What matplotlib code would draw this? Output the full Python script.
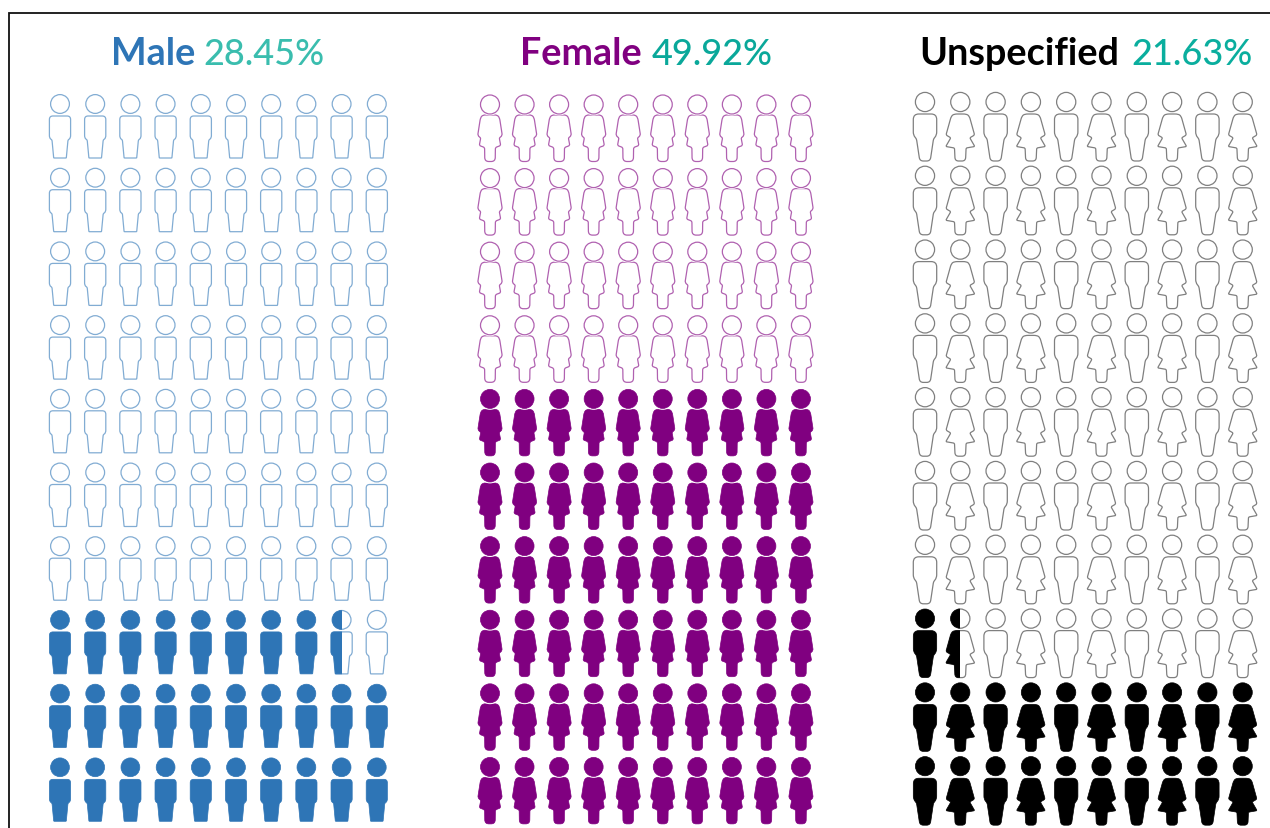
import matplotlib
matplotlib.use("Agg")
import matplotlib.pyplot as plt
from matplotlib.path import Path
from matplotlib.patches import PathPatch, Circle, Rectangle

# ---- data ----
groups = ["Male", "Female", "Unspecified"]
label_pct = ["28.45%", "49.92%", "21.63%"]
filled_pct = [28.5, 60, 21.5]          # filled icons

# ---- styles / layout ----
W, H = 1270, 829
name_colors = ["#2E75B6", "#800080", "#000000"]
pct_colors = ["#3ABDAE", "#0AA89A", "#0AAE9E"]
icon_colors = ["#2E75B6", "#800080", "#000000"]
outline_alpha = [0.6, 0.62, 0.5]
x_first = [60, 490, 925]
x_step = [35.2, 34.55, 35.3]
y_first = [105, 105.5, 103]
y_step = [73.7, 73.6, 73.8]
title_x = [(111, 203), (520, 652), (919, 1131)]
N_ROWS, N_COLS = 10, 10
HEAD_R = [9.4, 9.5, 9.6]

# half outlines: (x, y, corner radius), relative to the head centre
MALE_A = [(10.6, 12, 3.5), (10.6, 34, 2.5), (8, 36, 1), (6.3, 54, 0.6)]
FEMALE_A = [(7, 10.5, 2), (9.5, 13, 3), (12.3, 31, 2), (9.3, 33.5, 1),
            (10.7, 41, 1.5), (5.4, 43, 1.5), (5.2, 57, 4)]
MALE_B = [(11.7, 12, 5.5), (11.7, 33, 3), (8.5, 37, 1.5), (5.2, 59, 3.5)]
FEMALE_B = [(6, 12, 3), (9, 14, 3), (14.3, 33, 1.5), (9.5, 35.8, 1.2),
            (14.5, 44.5, 1.2), (5.8, 46, 1.2), (5.2, 59, 3.5)]


def rounded_path(half):
    """Closed symmetric outline with rounded corners."""
    right = list(half)
    left = [(-x, y, r) for x, y, r in reversed(half)]
    pts = right + left
    n = len(pts)
    verts, codes = [], []
    for i, (x, y, r) in enumerate(pts):
        x0, y0, _ = pts[i - 1]
        x1, y1, _ = pts[(i + 1) % n]
        d0 = max(((x0 - x) ** 2 + (y0 - y) ** 2) ** 0.5, 1e-6)
        d1 = max(((x1 - x) ** 2 + (y1 - y) ** 2) ** 0.5, 1e-6)
        r0, r1 = min(r, d0 / 2), min(r, d1 / 2)
        a = (x + (x0 - x) * r0 / d0, y + (y0 - y) * r0 / d0)
        b = (x + (x1 - x) * r1 / d1, y + (y1 - y) * r1 / d1)
        verts += [a, (x, y), b]
        codes += [Path.MOVETO if i == 0 else Path.LINETO, Path.CURVE3, Path.CURVE3]
    verts.append(verts[0])
    codes.append(Path.CLOSEPOLY)
    return verts, codes


def shape_for(panel, col):
    if panel == 0:
        return MALE_A, False
    if panel == 1:
        return FEMALE_A, True
    return (MALE_B, False) if col % 2 == 0 else (FEMALE_B, False)


def draw_icon(ax, cx, cy, half, halo, r, color, filled, alpha=1.0, clip_x=None):
    verts, codes = rounded_path(half)
    path = Path([(cx + x, cy + y) for x, y in verts], codes)
    z = 3 if filled else 2
    kw = dict(facecolor=color, edgecolor=color, linewidth=0.5) if filled else dict(
        facecolor="none", edgecolor=color, linewidth=0.9, alpha=alpha)
    body = PathPatch(path, zorder=z, **kw)
    ax.add_patch(body)
    parts = [body]
    if halo:
        h = Circle((cx, cy), r + 1.4, facecolor="white", edgecolor="none", zorder=z)
        ax.add_patch(h)
        parts.append(h)
    head = Circle((cx, cy), r, zorder=z, **kw)
    ax.add_patch(head)
    parts.append(head)
    if clip_x is not None:
        rect = Rectangle((cx - 40, cy - 40), clip_x - (cx - 40), 120, transform=ax.transData)
        for p in parts:
            p.set_clip_path(rect)


plt.rcParams["font.family"] = ["Lato", "DejaVu Sans"]
fig = plt.figure(figsize=(W / 100, H / 100), dpi=100, facecolor="white")
ax = fig.add_axes([0, 0, 1, 1])
ax.set_xlim(0, W)
ax.set_ylim(H, 0)
ax.axis("off")

# frame
ax.plot([8.5, 8.5, W + 5], [H + 5, 13.5, 13.5], color="#111111", lw=1.3,
        clip_on=False, solid_joinstyle="miter")

for p, group in enumerate(groups):
    value = filled_pct[p]
    for row in range(N_ROWS):
        for col in range(N_COLS):
            cx = x_first[p] + col * x_step[p]
            cy = y_first[p] + row * y_step[p]
            half, halo = shape_for(p, col)
            # cells fill from the bottom row up, left to right
            index = (N_ROWS - 1 - row) * N_COLS + col
            frac = min(max(value - index, 0), 1)
            width = max(pt[0] for pt in half)
            if frac < 1:
                draw_icon(ax, cx, cy, half, halo, HEAD_R[p], icon_colors[p], False,
                          alpha=outline_alpha[p])
            if frac >= 1:
                draw_icon(ax, cx, cy, half, halo, HEAD_R[p], icon_colors[p], True)
            elif frac > 0:
                draw_icon(ax, cx, cy, half, halo, HEAD_R[p], icon_colors[p], True,
                          clip_x=cx - width + 2 * width * frac)
    ax.text(title_x[p][0], 65, group, color=name_colors[p], fontsize=27.2,
            fontweight="bold", ha="left", va="baseline")
    ax.text(title_x[p][1], 65, label_pct[p], color=pct_colors[p], fontsize=26,
            fontweight="medium", ha="left", va="baseline")

fig.savefig("out.png", dpi=100, facecolor="white")
